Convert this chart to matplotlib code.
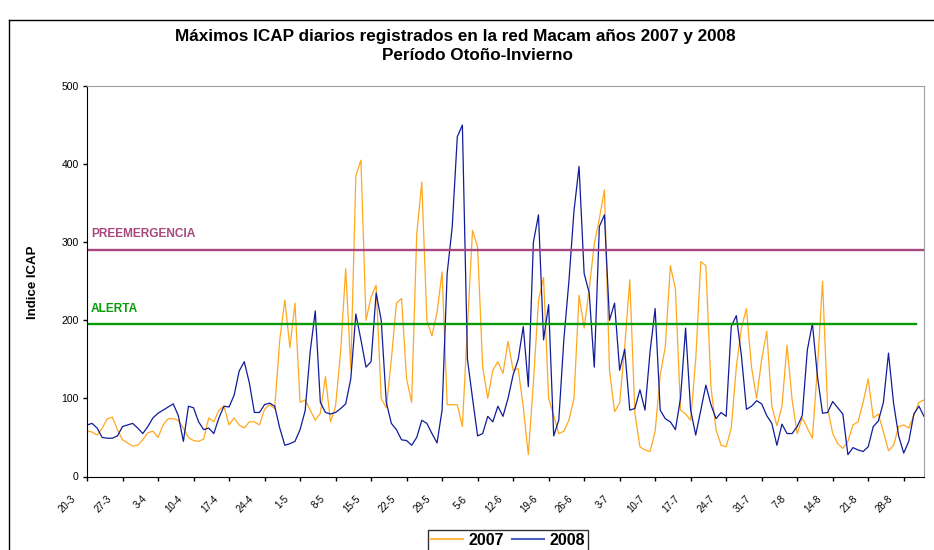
import matplotlib
matplotlib.use("Agg")
import matplotlib.pyplot as plt
from matplotlib.lines import Line2D
from matplotlib.transforms import ScaledTranslation

plt.rcParams['font.family'] = ['Liberation Sans', 'DejaVu Sans']

# daily maximum ICAP, 20-3 .. 1-9 (166 days)
icap_2007 = [
    58, 57, 53, 62, 74, 76, 60, 47, 43, 39, 40, 47,
    56, 58, 50, 66, 74, 74, 72, 62, 50, 46, 45, 48,
    75, 70, 85, 90, 66, 75, 66, 62, 70, 70, 66, 86,
    92, 87, 175, 226, 165, 222, 95, 98, 85, 72, 81, 128,
    70, 90, 160, 266, 138, 385, 405, 200, 230, 245, 100, 88,
    150, 222, 228, 125, 95, 310, 377, 200, 180, 210, 262, 92,
    92, 92, 64, 192, 315, 294, 140, 100, 136, 147, 132, 173,
    136, 138, 89, 28, 120, 225, 255, 100, 78, 55, 58, 72,
    100, 232, 190, 240, 298, 330, 367, 136, 83, 94, 166, 252,
    81, 38, 34, 32, 58, 130, 166, 270, 240, 85, 80, 72,
    150, 275, 270, 115, 60, 40, 38, 62, 140, 190, 215, 140,
    100, 150, 186, 90, 65, 90, 168, 98, 55, 75, 62, 49,
    140, 250, 88, 55, 42, 36, 45, 66, 70, 95, 125, 75,
    80, 57, 33, 40, 64, 66, 62, 78, 95, 98,
]
icap_2008 = [
    66, 68, 62, 50, 49, 49, 52, 64, 66, 68, 62, 55,
    64, 75, 81, 85, 89, 93, 78, 45, 90, 88, 70, 60,
    62, 55, 75, 90, 89, 104, 135, 147, 120, 82, 82, 92,
    94, 90, 62, 40, 42, 45, 60, 84, 160, 212, 95, 82,
    80, 82, 87, 93, 125, 208, 175, 140, 147, 235, 200, 95,
    68, 60, 47, 46, 40, 50, 72, 68, 55, 43, 85, 260,
    320, 435, 450, 150, 100, 52, 55, 77, 70, 90, 77, 100,
    130, 150, 192, 115, 300, 335, 175, 220, 52, 72, 175, 250,
    340, 397, 260, 235, 140, 320, 335, 200, 222, 136, 163, 85,
    87, 111, 85, 160, 215, 85, 74, 70, 60, 100, 190, 85,
    53, 85, 117, 92, 74, 82, 77, 192, 206, 155, 86, 90,
    97, 93, 78, 68, 40, 67, 55, 55, 64, 78, 162, 196,
    128, 81, 82, 96, 88, 80, 28, 37, 34, 32, 38, 64,
    71, 95, 158, 94, 52, 30, 45, 80, 90, 77,
]
tick_labels = ['20-3', '27-3', '3-4', '10-4', '17-4', '24-4', '1-5', '8-5',
               '15-5', '22-5', '29-5', '5-6', '12-6', '19-6', '26-6', '3-7',
               '10-7', '17-7', '24-7', '31-7', '7-8', '14-8', '21-8', '28-8']
alerta = 195
preemergencia = 290

W, H = 934, 550
fig = plt.figure(figsize=(W / 100, H / 100), dpi=100)
ax = fig.add_axes([87 / W, 1 - 476.5 / H, (924 - 87) / W, (476.5 - 86) / H])

days = list(range(len(icap_2007)))
ax.plot(days, icap_2007, color='#ffa81e', lw=0.9)
ax.plot(days, icap_2008, color='#101c99', lw=0.9)
ax.axhline(preemergencia, color='#a8477f', lw=1.7)
ax.axhline(alerta, color='#079c07', lw=1.7, xmax=0.99)

ax.text(0.8, preemergencia + 20, 'PREEMERGENCIA', color='#a8477f',
        fontsize=8.6, fontweight='bold', va='center')
ax.text(0.8, alerta + 20, 'ALERTA', color='#079c07',
        fontsize=8.6, fontweight='bold', va='center')

ax.set_xlim(0, len(days) - 1)
ax.set_ylim(0, 500)
ax.set_yticks(range(0, 501, 100))
ax.tick_params(axis='y', labelsize=7.5, length=3, width=1, pad=3)
ax.set_xticks(range(0, 7 * len(tick_labels), 7))
ax.set_xticklabels(tick_labels, rotation=45, ha='right', va='top', fontsize=7)
ax.tick_params(axis='x', length=3, width=1, pad=9.5)
shift = ScaledTranslation(-9 / 100, 0, fig.dpi_scale_trans)
for lab in ax.get_xticklabels():
    lab.set_transform(lab.get_transform() + shift)

for s in ['top', 'right']:
    ax.spines[s].set_color('#a0a0a0')
for s in ['left', 'bottom']:
    ax.spines[s].set_color('black')

fig.text(33 / W, 1 - 282 / H, 'Indice ICAP', rotation=90, ha='center',
         va='center', fontsize=9.5, fontweight='bold')

fig.text(455 / W, 1 - 36 / H,
         'Máximos ICAP diarios registrados en la red Macam años 2007 y 2008',
         ha='center', va='center', fontsize=12.3, fontweight='bold')
fig.text(477 / W, 1 - 55 / H, 'Período Otoño-Invierno',
         ha='center', va='center', fontsize=12.3, fontweight='bold')

# outer chart border
fig.add_artist(Line2D([9 / W, 9 / W], [0, 1 - 20 / H], color='black', lw=1))
fig.add_artist(Line2D([9 / W, 1], [1 - 20 / H, 1 - 20 / H], color='black', lw=1))

handles = [Line2D([], [], color='#ffb84a', lw=1.5),
           Line2D([], [], color='#5060c0', lw=1.5)]
leg = fig.legend(handles, ['2007', '2008'], loc='upper center',
                 bbox_to_anchor=(508 / W, 1 - 529.5 / H), ncol=2, frameon=True,
                 fancybox=False, prop={'weight': 'bold', 'size': 11.5},
                 handlelength=2.0, handletextpad=0.37, columnspacing=0.45,
                 borderpad=0.2, borderaxespad=0)
leg.get_frame().set_edgecolor('black')
leg.get_frame().set_linewidth(1)

fig.savefig('out.png', dpi=100)
